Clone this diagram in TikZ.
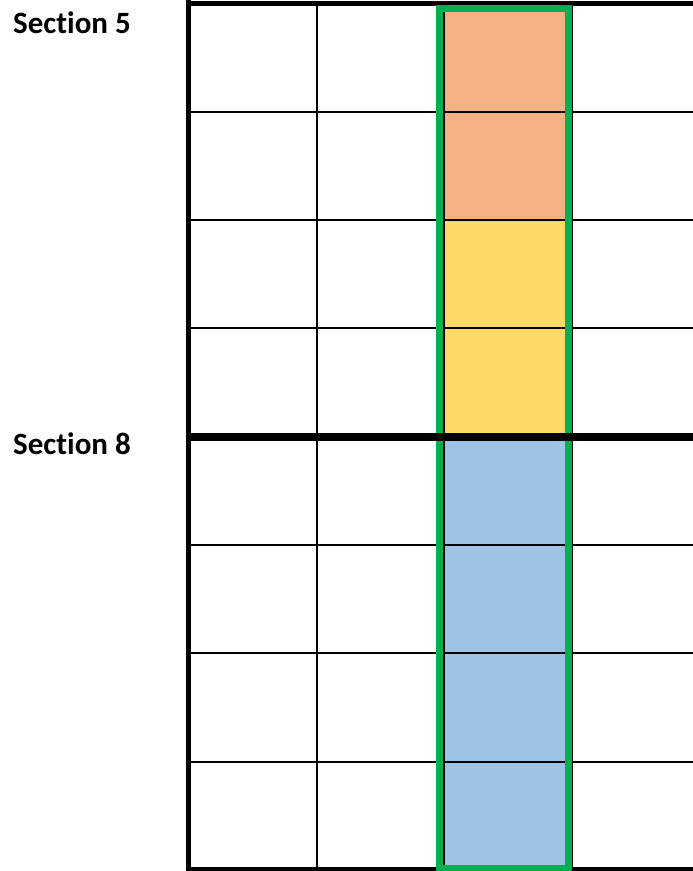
\documentclass[tikz,border=0pt]{standalone}
\usepackage{fontspec}
\setmainfont{Carlito}[Ligatures=NoCommon]
\definecolor{cOrange}{HTML}{F4B183}
\definecolor{cYellow}{HTML}{FFD966}
\definecolor{cBlue}{HTML}{9DC3E6}
\definecolor{cGreen}{HTML}{00B050}
\tikzset{
  thin grid/.style={line width=2pt, black},
  thick border/.style={line width=5pt, black},
  mid border/.style={line width=8pt, black},
  green frame/.style={line width=7pt, cGreen},
  sec label/.style={anchor=base west, inner sep=0pt, font=\fontsize{31}{37}\selectfont\bfseries}
}
\begin{document}
\begin{tikzpicture}[x=1pt,y=-1pt]
\useasboundingbox (0,0) rectangle (693,871);
\clip (0,0) rectangle (693,871);
% fills
\fill[cOrange] (444,4) rectangle (572,220);
\fill[cYellow] (444,220) rectangle (572,436);
\fill[cBlue] (444,436) rectangle (572,869);
% thin grid
\foreach \yy in {112,220,328,545,653,762}
  \draw[thin grid] (188,\yy) -- (700,\yy);
\foreach \xx in {317,444,572}
  \draw[thin grid] (\xx,4) -- (\xx,869);
% outer borders
\draw[thick border] (188,3.5) -- (700,3.5);
\draw[thick border] (188,0) -- (188,871);
\draw[thick border] (185.5,869) -- (700,869);
% green frame
\draw[green frame] (439.5,8) rectangle (568,868.5);
% section divider
\draw[mid border] (185.5,436.5) -- (700,436.5);
% labels
\node[sec label] (s5) at (13,33) {Section 5};
\node[sec label] (s8) at (13,454) {Section 8};
\end{tikzpicture}
\end{document}
